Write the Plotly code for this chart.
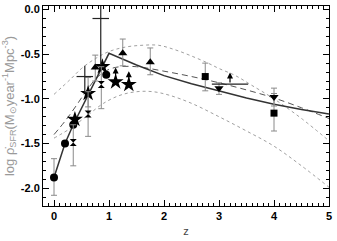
import plotly.graph_objects as go

# ---- model curves ----
solid_z = [0, 0.2, 0.35, 1.0, 1.5, 2.0, 2.5, 3.0, 3.5, 4.0, 4.5, 5.0]
solid_y = [-1.88, -1.50, -1.29, -0.49, -0.62, -0.74, -0.83, -0.91, -0.99, -1.06, -1.12, -1.17]

dash_z = [0, 0.2, 0.4, 0.6, 0.8, 1.0, 1.2, 1.5, 2.0, 2.5, 3.0, 3.5, 4.0, 4.5, 5.0]
dash_y = [-1.40, -1.25, -1.08, -0.90, -0.75, -0.67, -0.64, -0.64, -0.69, -0.75, -0.82, -0.90, -0.99, -1.10, -1.22]

dotu_z = [0, 0.3, 0.5, 0.75, 1.0, 1.3, 1.6, 1.9, 2.2, 2.5, 2.8, 3.0, 3.3, 3.6, 4.0, 4.5, 5.0]
dotu_y = [-0.95, -0.78, -0.66, -0.55, -0.47, -0.42, -0.40, -0.40, -0.45, -0.52, -0.60, -0.66, -0.74, -0.85, -1.00, -1.22, -1.47]

dotl_z = [0, 0.3, 0.6, 0.9, 1.2, 1.5, 1.8, 2.1, 2.5, 3.0, 3.5, 4.0, 4.5, 5.0]
dotl_y = [-1.44, -1.33, -1.19, -1.05, -0.96, -0.92, -0.92, -0.96, -1.05, -1.20, -1.36, -1.53, -1.75, -1.99]

# ---- data points ----
circ_z = [0.0, 0.2, 0.35, 0.95]
circ_y = [-1.88, -1.50, -1.29, -0.73]
circ_ep = [0.21, 0, 0, 0]
circ_em = [0.20, 0, 0, 0]

star_z = [0.38, 0.62, 0.88, 1.12, 1.36]
star_y = [-1.23, -0.94, -0.64, -0.81, -0.84]
star_ep = [0, 0.18, 0, 0, 0]
star_em = [0, 0.15, 0, 0, 0]

tri_z = [0.75, 1.25, 1.75]
tri_y = [-0.65, -0.49, -0.59]
tri_ep = [0.14, 0.16, 0.16]
tri_em = [0.15, 0.14, 0.14]

hg_z = [0.35, 0.62, 0.86]
hg_y = [-1.49, -1.17, -0.84]
hg_ep = [0.2, 0.25, 0.2]
hg_em = [0.26, 0.25, 0.27]

sq_z = [2.75, 4.0]
sq_y = [-0.75, -1.16]
sq_ep = [0.15, 0.22]
sq_em = [0.16, 0.20]

tdn_z = [3.0, 4.0]
tdn_y = [-0.88, -0.98]
tdn_ep = [0.06, 0.10]
tdn_em = [0.07, 0.10]

cross_z = [0.56, 0.85]
cross_y = [-0.75, -0.10]
cross_ex = [0.15, 0.15]
cross_ep = [0.12, 0.15]
cross_em = [0.18, 0.52]

lim_z = [3.2]
lim_y = [-0.835]
lim_ex = [0.33]

arrow_z = [1.12, 1.36, 3.2]
arrow_y = [-0.81, -0.84, -0.835]
arrow_len = [0.16, 0.15, 0.13]

xticks = [0, 1, 2, 3, 4, 5]
yticks = [0.0, -0.5, -1.0, -1.5, -2.0]
yticktext = ["0.0", "-0.5", "-1.0", "-1.5", "-2.0"]

GRAY = "#8a8a8a"
fig = go.Figure()

fig.add_trace(go.Scatter(x=dotu_z, y=dotu_y, mode="lines", line=dict(color="#a0a0a0", width=1, dash="dot"), line_shape="spline"))
fig.add_trace(go.Scatter(x=dotl_z, y=dotl_y, mode="lines", line=dict(color="#a0a0a0", width=1, dash="dot"), line_shape="spline"))
fig.add_trace(go.Scatter(x=dash_z, y=dash_y, mode="lines", line=dict(color="#555555", width=1, dash="6px,4px"), line_shape="spline"))
fig.add_trace(go.Scatter(x=solid_z, y=solid_y, mode="lines", line=dict(color="#333333", width=1.5)))

def pts(z, y, ep, em, sym, size):
    fig.add_trace(go.Scatter(
        x=z, y=y, mode="markers",
        marker=dict(symbol=sym, size=size, color="black"),
        error_y=dict(type="data", symmetric=False, array=ep, arrayminus=em,
                     color=GRAY, thickness=1, width=3)))

pts(circ_z, circ_y, circ_ep, circ_em, "circle", 8)
pts(star_z, star_y, star_ep, star_em, "star", 12)
pts(tri_z, tri_y, tri_ep, tri_em, "triangle-up", 8)
pts(hg_z, hg_y, hg_ep, hg_em, "hourglass", 7)
pts(sq_z, sq_y, sq_ep, sq_em, "square", 7)
pts(tdn_z, tdn_y, tdn_ep, tdn_em, "triangle-down", 8)

fig.add_trace(go.Scatter(
    x=cross_z, y=cross_y, mode="markers", marker=dict(size=1, color="black", opacity=0),
    error_x=dict(type="data", array=cross_ex, color="#222", thickness=1.2, width=0),
    error_y=dict(type="data", symmetric=False, array=cross_ep, arrayminus=cross_em,
                 color="#222", thickness=1.2, width=0)))
fig.add_trace(go.Scatter(
    x=lim_z, y=lim_y, mode="markers", marker=dict(size=1, color="black", opacity=0),
    error_x=dict(type="data", array=lim_ex, color="#222", thickness=1.2, width=0)))

for z, y, l in zip(arrow_z, arrow_y, arrow_len):
    fig.add_annotation(x=z, y=y + l, ax=z, ay=y, xref="x", yref="y", axref="x", ayref="y",
                       text="", showarrow=True, arrowhead=2, arrowsize=1, arrowwidth=1.2,
                       arrowcolor="black")

axis_common = dict(showline=True, linecolor="black", linewidth=1, mirror="ticks",
                   ticks="inside", ticklen=6, tickcolor="black", showgrid=False,
                   zeroline=False,
                   tickfont=dict(family="Liberation Sans", size=11, color="black", weight="bold"))

fig.update_xaxes(range=[-0.2, 5.0], tickvals=xticks,
                 minor=dict(ticks="inside", ticklen=3, dtick=0.1, tickcolor="black"),
                 title=dict(text="z", font=dict(family="Liberation Sans", size=11, color="#444"), standoff=6),
                 **axis_common)
fig.update_yaxes(range=[-2.2, 0.04], tickvals=yticks, ticktext=yticktext,
                 minor=dict(ticks="inside", ticklen=3, dtick=0.1, tickcolor="black"),
                 title=dict(text="log ρ̇<sub>SFR</sub>(M<sub>⊙</sub>year<sup>-1</sup>Mpc<sup>-3</sup>)",
                            font=dict(family="Liberation Sans", size=13, color="#9a9a9a"), standoff=3),
                 **axis_common)

fig.update_layout(width=337, height=241, margin=dict(l=43, r=8, t=3, b=35),
                  paper_bgcolor="white", plot_bgcolor="white", showlegend=False)

fig.write_html("out.html")
